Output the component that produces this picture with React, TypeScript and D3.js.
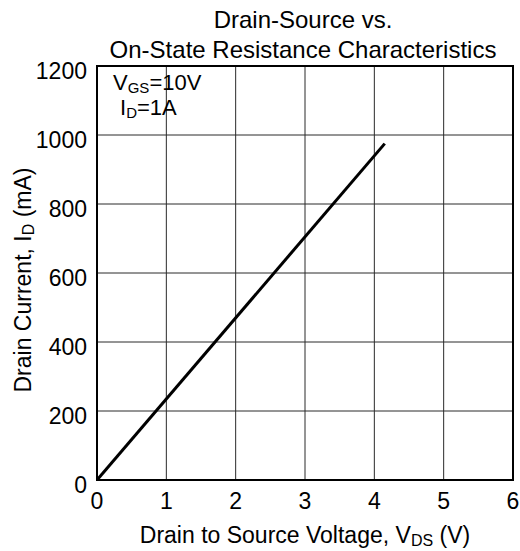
import { useEffect, useRef } from "react";
import * as d3 from "d3";

const voltage = [0, 4.15];
const current = [0, 975];
const xTicks = [0, 1, 2, 3, 4, 5, 6];
const yTicks = [0, 200, 400, 600, 800, 1000, 1200];

const App = () => {
  const width = 520;
  const height = 551;
  const margin = { top: 66, right: 7, bottom: 71, left: 97 };
  const innerWidth = width - margin.left - margin.right;
  const innerHeight = height - margin.top - margin.bottom;
  const svgRef = useRef<SVGSVGElement>(null);

  useEffect(() => {
    const svg = d3.select(svgRef.current);
    svg.selectAll("*").remove();
    const font = "'Liberation Sans', Arial, sans-serif";

    const x = d3.scaleLinear().domain([0, 6]).range([0, innerWidth]);
    const y = d3.scaleLinear().domain([0, 1200]).range([innerHeight, 0]);

    const g = svg
      .append("g")
      .attr("transform", `translate(${margin.left},${margin.top})`);

    // grid
    g.append("g")
      .selectAll("line")
      .data(xTicks.slice(1, -1))
      .enter()
      .append("line")
      .attr("x1", (d) => x(d))
      .attr("x2", (d) => x(d))
      .attr("y1", 0)
      .attr("y2", innerHeight)
      .attr("stroke", "#2a2a2a")
      .attr("stroke-width", 1);
    g.append("g")
      .selectAll("line")
      .data(yTicks.slice(1, -1))
      .enter()
      .append("line")
      .attr("x1", 0)
      .attr("x2", innerWidth)
      .attr("y1", (d) => y(d))
      .attr("y2", (d) => y(d))
      .attr("stroke", "#2a2a2a")
      .attr("stroke-width", 1);

    g.append("rect")
      .attr("width", innerWidth)
      .attr("height", innerHeight)
      .attr("fill", "none")
      .attr("stroke", "#000")
      .attr("stroke-width", 2);

    const pts = voltage.map((v, i) => [v, current[i]] as [number, number]);
    g.append("path")
      .datum(pts)
      .attr("fill", "none")
      .attr("stroke", "#000")
      .attr("stroke-width", 3)
      .attr(
        "d",
        d3
          .line<[number, number]>()
          .x((d) => x(d[0]))
          .y((d) => y(d[1]))
      );

    // tick labels
    g.append("g")
      .selectAll("text")
      .data(xTicks)
      .enter()
      .append("text")
      .attr("x", (d) => x(d))
      .attr("y", innerHeight + 29)
      .attr("text-anchor", "middle")
      .style("font-family", font)
      .style("font-size", "23px")
      .text((d) => d);
    g.append("g")
      .selectAll("text")
      .data(yTicks)
      .enter()
      .append("text")
      .attr("x", -10)
      .attr("y", (d) => y(d) + 13)
      .attr("text-anchor", "end")
      .style("font-family", font)
      .style("font-size", "23px")
      .text((d) => d);

    // annotations
    const a1 = g
      .append("text")
      .attr("x", 16)
      .attr("y", 24)
      .style("font-family", font)
      .style("font-size", "22px");
    a1.append("tspan").text("V");
    a1.append("tspan").attr("dy", 3).style("font-size", "15px").text("GS");
    a1.append("tspan").attr("dy", -3).text("=10V");
    const a2 = g
      .append("text")
      .attr("x", 23)
      .attr("y", 49)
      .style("font-family", font)
      .style("font-size", "22px");
    a2.append("tspan").text("I");
    a2.append("tspan").attr("dy", 3).style("font-size", "15px").text("D");
    a2.append("tspan").attr("dy", -3).text("=1A");

    // title
    const title = svg
      .append("text")
      .attr("text-anchor", "middle")
      .style("font-family", font)
      .style("font-size", "24px");
    title.append("tspan").attr("x", 303).attr("y", 28).text("Drain-Source vs.");
    title
      .append("tspan")
      .attr("x", 303)
      .attr("y", 58)
      .text("On-State Resistance Characteristics");

    // x label
    const xl = svg
      .append("text")
      .attr("x", 305)
      .attr("y", 543)
      .attr("text-anchor", "middle")
      .style("font-family", font)
      .style("font-size", "23px");
    xl.append("tspan").text("Drain to Source Voltage, V");
    xl.append("tspan").attr("dy", 3).style("font-size", "16px").text("DS");
    xl.append("tspan").attr("dy", -3).text(" (V)");

    // y label
    const yl = svg
      .append("text")
      .attr("transform", "rotate(-90)")
      .attr("x", -280)
      .attr("y", 31)
      .attr("text-anchor", "middle")
      .style("font-family", font)
      .style("font-size", "23px");
    yl.append("tspan").text("Drain Current, I");
    yl.append("tspan").attr("dy", 3).style("font-size", "16px").text("D");
    yl.append("tspan").attr("dy", -3).text(" (mA)");
  }, []);

  return (
    <svg
      ref={svgRef}
      width={width}
      height={height}
      style={{ position: "absolute", left: 0, top: 0, background: "#fff" }}
    ></svg>
  );
};

export default App;
